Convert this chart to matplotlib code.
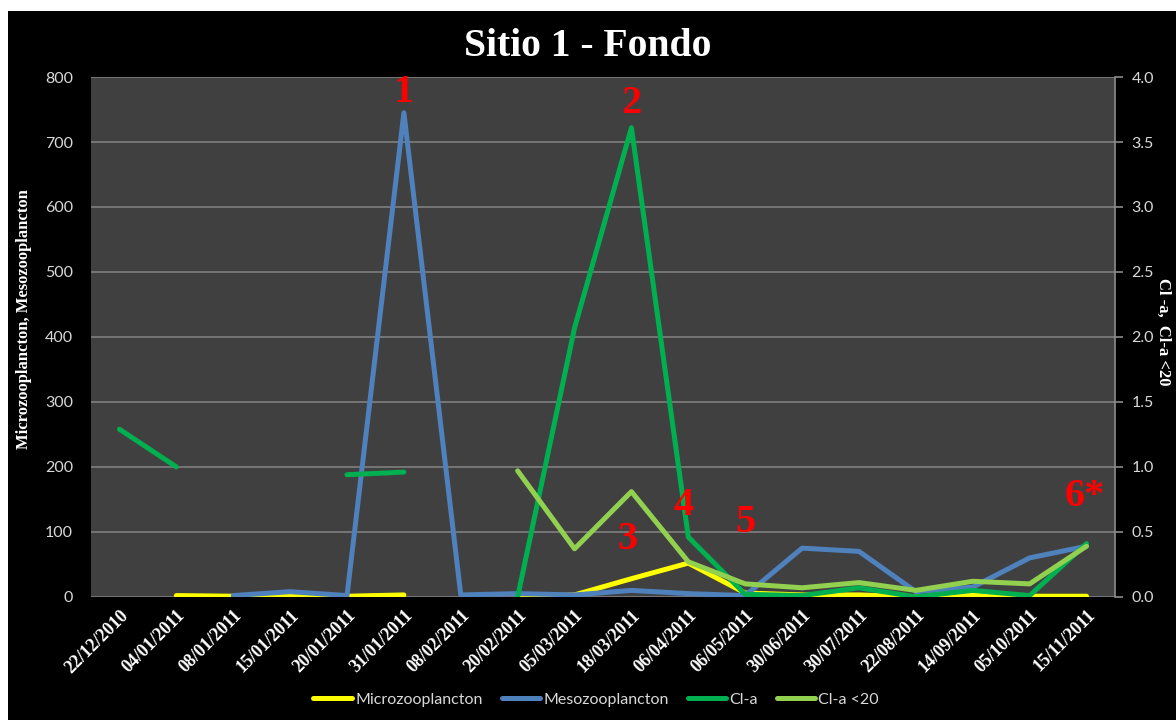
import numpy as np
import matplotlib
matplotlib.use("Agg")
import matplotlib.pyplot as plt
from matplotlib.patches import Rectangle

nan = np.nan

# Fechas de muestreo
fechas = ["22/12/2010", "04/01/2011", "08/01/2011", "15/01/2011", "20/01/2011",
          "31/01/2011", "08/02/2011", "20/02/2011", "05/03/2011", "18/03/2011",
          "06/04/2011", "06/05/2011", "30/06/2011", "30/07/2011", "22/08/2011",
          "14/09/2011", "05/10/2011", "15/11/2011"]

# Eje izquierdo
microzoo = [nan, 2, 1, 1, 1, 3, nan, 0, 3, 28, 52, 6, 3, 3, 0, 3, 1, 1]
mesozoo = [nan, nan, 2, 8, 2, 745, 3, 5, 3, 10, 5, 2, 75, 70, 8, 15, 60, 78]

# Eje derecho
cla = [1.29, 1.0, nan, nan, 0.94, 0.96, nan, 0.0, 2.07, 3.61, 0.46, 0.02,
       0.01, 0.07, 0.0, 0.05, 0.01, 0.41]
cla20 = [nan, nan, nan, nan, nan, nan, nan, 0.97, 0.37, 0.81, 0.27, 0.10,
         0.07, 0.11, 0.05, 0.12, 0.10, 0.39]

# Marcas numeradas (x = índice de fecha, y = escala izquierda)
marca_txt = ["1", "2", "3", "4", "5", "6*"]
marca_x = [5.0, 9.0, 8.93, 9.92, 11.0, 16.97]
marca_y = [776, 760, 88, 141, 114, 154]

SERIF = "Liberation Serif"
SANS = "Lato"
TICK_COLOR = "#d9d9d9"

fig = plt.figure(figsize=(11.76, 7.2), dpi=100, facecolor="white")
# fondo negro con un pequeño margen blanco arriba y a la izquierda
fig.patches.append(Rectangle((8 / 1176, 0), 1, 1 - 11 / 720, transform=fig.transFigure,
                             facecolor="black", edgecolor="none", zorder=-10))

ax = fig.add_axes([0.0774, 0.171, 0.8707, 0.722])
ax.set_facecolor("#404040")
ax2 = ax.twinx()

x = np.arange(len(fechas))
lw = 3.6
style = dict(lw=lw, solid_capstyle="round", solid_joinstyle="round")
l1, = ax.plot(x, microzoo, color="#FFFF00", label="Microzooplancton", **style)
l2, = ax.plot(x, mesozoo, color="#4F81BD", label="Mesozooplancton", **style)
l3, = ax2.plot(x, cla, color="#00B050", label="Cl-a", **style)
l4, = ax2.plot(x, cla20, color="#92D050", label="Cl-a <20", **style)

ax.set_xlim(-0.5, len(fechas) - 0.5)
ax.set_ylim(0, 800)
ax.set_yticks(np.arange(0, 801, 100))
ax2.set_ylim(0, 4.0)
ax2.set_yticks(np.arange(0, 4.01, 0.5))
ax2.set_yticklabels([f"{v:.1f}" for v in np.arange(0, 4.01, 0.5)])

ax.yaxis.grid(True, color="#7a7a7a", lw=1.3)
ax.set_axisbelow(True)
for a in (ax, ax2):
    for s in a.spines.values():
        s.set_visible(False)
ax2.spines["right"].set_visible(True)
ax2.spines["right"].set_color("#8c8c8c")
ax2.spines["right"].set_linewidth(1.2)

ax.set_xticks(x)
ax.set_xticklabels(fechas, rotation=45, ha="right", rotation_mode="anchor",
                   family=SERIF, fontweight="bold", fontsize=13, color="white")
ax.tick_params(axis="x", length=0, pad=7)
ax.tick_params(axis="y", length=0, pad=13, labelcolor=TICK_COLOR, labelsize=11.5)
ax2.tick_params(axis="y", length=6, width=1.2, color="#8c8c8c", pad=6,
                labelcolor=TICK_COLOR, labelsize=11.5)
for lab in ax.get_yticklabels() + ax2.get_yticklabels():
    lab.set_family(SANS)

ax.set_ylabel("Microzooplancton, Mesozooplancton", family=SERIF, fontweight="bold",
              fontsize=12, color="white", va="center")
ax.yaxis.set_label_coords(-0.0654, 0.535)
ax2.set_ylabel("Cl -a,  Cl-a <20", family=SERIF, fontweight="bold", fontsize=12,
               color="white", rotation=270, va="center")
ax2.yaxis.set_label_coords(1.047, 0.51)

fig.text(0.5, 1 - 46 / 720, "Sitio 1 - Fondo", ha="center", va="center",
         family=SERIF, fontweight="bold", fontsize=28.5, color="white")

for t, mx, my in zip(marca_txt, marca_x, marca_y):
    ax2.text(mx, my / 200, t, ha="center", va="center", family=SERIF,
             fontweight="bold", fontsize=29, color="#FF0000", zorder=5)

leg = fig.legend(handles=[l1, l2, l3, l4], loc="center", bbox_to_anchor=(0.507, 0.028),
                 ncol=4, frameon=False, handlelength=2.4, handletextpad=0.2,
                 columnspacing=1.2, prop={"family": SANS, "size": 11.5})
for txt in leg.get_texts():
    txt.set_color(TICK_COLOR)

fig.savefig("out.png", dpi=100, facecolor=fig.get_facecolor())
